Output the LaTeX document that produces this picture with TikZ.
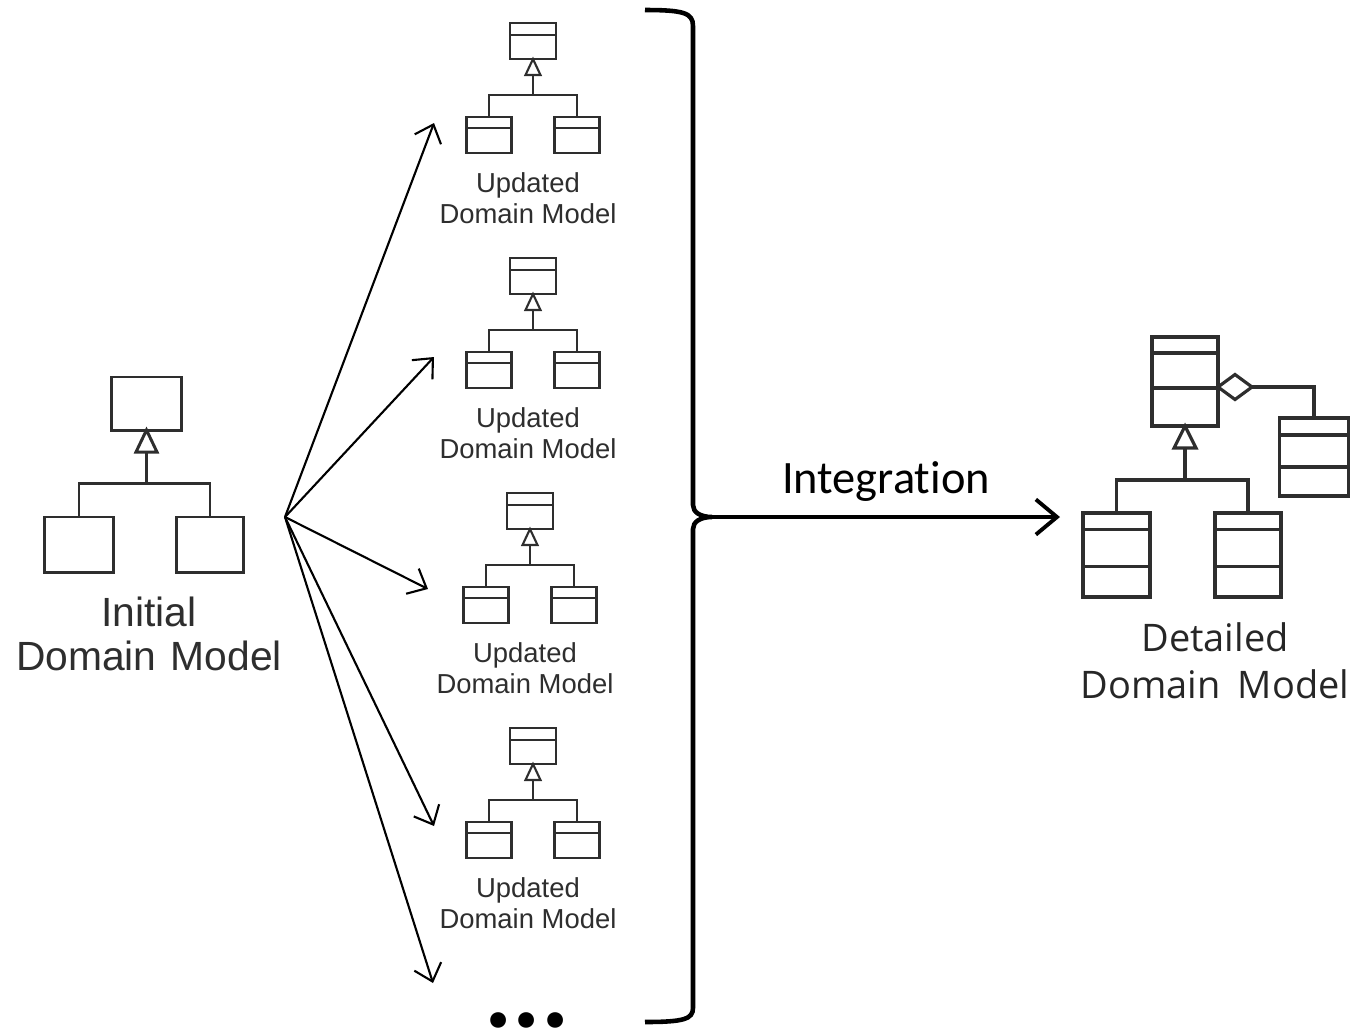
\documentclass[tikz,border=0pt]{standalone}
\usepackage{fontspec}
\setmainfont{Liberation Sans}
\newfontfamily\calibfont[Ligatures=NoCommon]{Carlito}
\newfontfamily\opensfont{Open Sans}
\usetikzlibrary{arrows.meta,calc}

% horizontal compartment line inside a class box, at a fraction of its height
\newcommand{\compline}[3][]{%
  \draw[#1] ($(#2.north west)!#3!(#2.south west)$) -- ($(#2.north east)!#3!(#2.south east)$);}

\begin{document}
\begin{tikzpicture}[x=0.01cm,y=-0.01cm,
  umlc/.style={draw=black!82},
  ibox/.style={umlc, line width=0.85pt, fill=white, inner sep=0pt, outer sep=0pt, rectangle},
  iline/.style={umlc, line width=0.85pt},
  ubox/.style={umlc, line width=0.6pt, fill=white, inner sep=0pt, outer sep=0pt, rectangle},
  uline/.style={umlc, line width=0.6pt},
  dbox/.style={umlc, line width=0.9pt, fill=white, inner sep=0pt, outer sep=0pt, rectangle},
  dline/.style={umlc, line width=0.9pt},
  itext/.style={text=black!82, align=center, font=\fontsize{11.6}{12.3}\selectfont},
  utext/.style={text=black!82, align=center, font=\fontsize{7.8}{8.8}\selectfont},
  dtext/.style={text=black!85, align=center, font=\opensfont\fontsize{10.8}{13.4}\selectfont},
  fanarrow/.style={line width=0.6pt, -{Straight Barb[length=4.5pt,width=8pt,line width=0.6pt]}},
  bigarrow/.style={line width=1.1pt, -{Straight Barb[length=6pt,width=10pt,line width=1.1pt]}},
]
\useasboundingbox (0,0) rectangle (1356,1029);

% ---------------- initial domain model ----------------
\node[ibox, minimum width=0.69cm, minimum height=0.53cm] (i-top) at (146.5,403.5) {};
\node[ibox, minimum width=0.68cm, minimum height=0.55cm] (i-l) at (79,544.5) {};
\node[ibox, minimum width=0.67cm, minimum height=0.55cm] (i-r) at (210,544.5) {};
\draw[iline, fill=white] (i-top.south) -- ++(-10.5,22) -- ++(21,0) -- cycle;
\coordinate (i-b) at ($(i-top.south)+(0,22)$);
\draw[iline] (i-b) -- ++(0,31) coordinate (i-j);
\draw[iline] (i-l.north) |- (i-j) -| (i-r.north);
\node[itext] (i-lab) at (149,634) {Initial\\Domain\hspace{0.35em}Model};

% ---------------- updated domain models ----------------
\foreach \k/\cx/\cy in {1/533/41, 2/533/276, 3/530/511, 4/533/746}{
  \node[ubox, minimum width=0.46cm, minimum height=0.36cm] (u\k-top) at (\cx,\cy) {};
  \compline[uline]{u\k-top}{0.33}
  \node[ubox, minimum width=0.45cm, minimum height=0.36cm] (u\k-l) at ({\cx-44},{\cy+94}) {};
  \compline[uline]{u\k-l}{0.31}
  \node[ubox, minimum width=0.45cm, minimum height=0.36cm] (u\k-r) at ({\cx+44},{\cy+94}) {};
  \compline[uline]{u\k-r}{0.31}
  \draw[uline, fill=white] (u\k-top.south) -- ++(-7.5,16) -- ++(15,0) -- cycle;
  \coordinate (u\k-b) at ($(u\k-top.south)+(0,16)$);
  \draw[uline] (u\k-b) -- ++(0,20) coordinate (u\k-j);
  \draw[uline] (u\k-l.north) |- (u\k-j) -| (u\k-r.north);
  \node[utext] (u\k-lab) at ({\cx-5},{\cy+157}) {Updated\\Domain Model};
}

% ---------------- fan of arrows ----------------
\coordinate (fan) at (285,517);
\coordinate (t1) at (434,123);
\coordinate (t2) at (434,357);
\coordinate (t3) at (428,589);
\coordinate (t4) at (434,826);
\coordinate (t5) at (433,983);
\foreach \k in {1,...,5}{\draw[fanarrow] (fan) -- (t\k);}

\node[font=\calibfont\bfseries\fontsize{30}{30}\selectfont, anchor=base, inner sep=0pt] (more) at (527,1027) {...};

% ---------------- brace and integration arrow ----------------
\coordinate (brtop) at (645,10);
\coordinate (brbot) at (645,1022);
\coordinate (brtip) at (712,517);
\draw[line width=1.3pt]
  (brtop) .. controls (684,10) and (693,13) .. (693,26)
  -- (693,505) .. controls (693,512) and (700,517) .. (brtip)
  .. controls (700,517) and (693,522) .. (693,529)
  -- (693,1008) .. controls (693,1019) and (684,1022) .. (brbot);
\coordinate (d-in) at (1060,517);
\draw[bigarrow] (brtip) -- (d-in);
\node[font=\calibfont\fontsize{13.2}{15}\selectfont, anchor=base] (integ) at (886,493) {Integration};

% ---------------- detailed domain model ----------------
\node[dbox, minimum width=0.66cm, minimum height=0.89cm] (d-top) at (1185,381.5) {};
\compline[dline]{d-top}{0.18}
\compline[dline]{d-top}{0.573}
\node[dbox, minimum width=0.69cm, minimum height=0.78cm] (d-side) at (1314,457) {};
\compline[dline]{d-side}{0.218}
\compline[dline]{d-side}{0.628}
\node[dbox, minimum width=0.67cm, minimum height=0.84cm] (d-l) at (1116.5,555) {};
\compline[dline]{d-l}{0.2}
\compline[dline]{d-l}{0.64}
\node[dbox, minimum width=0.66cm, minimum height=0.84cm] (d-r) at (1248,555) {};
\compline[dline]{d-r}{0.2}
\compline[dline]{d-r}{0.64}
% aggregation diamond
\coordinate (d-dl) at (d-top.east |- 0,387);
\draw[dline, fill=white] (d-dl) -- ++(17,-12.5) -- ++(17,12.5) coordinate (d-dr) -- ++(-17,12.5) -- cycle;
\draw[dline] (d-dr) -| (d-side.north);
% generalisation
\draw[dline, fill=white] (d-top.south) -- ++(-11,22) -- ++(22,0) -- cycle;
\coordinate (d-b) at ($(d-top.south)+(0,22)$);
\draw[dline] (d-b) -- ++(0,32) coordinate (d-j);
\draw[dline] (d-l.north) |- (d-j) -| (d-r.north);
\node[dtext] (d-lab) at (1215,661) {Detailed\\Domain\hspace{0.45em}Model};
\end{tikzpicture}
\end{document}
